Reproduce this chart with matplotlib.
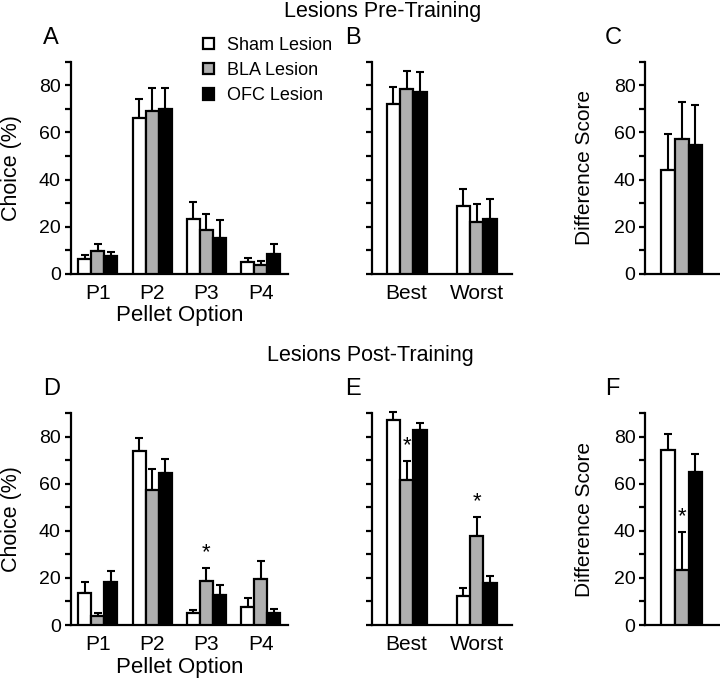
import numpy as np
import matplotlib.pyplot as plt
from matplotlib.patches import Patch
from matplotlib.ticker import MultipleLocator

plt.rcParams['font.family'] = ['Liberation Sans', 'DejaVu Sans']
plt.rcParams['font.size'] = 14

groups = ['Sham Lesion', 'BLA Lesion', 'OFC Lesion']
colors = ['white', '#afafaf', 'black']

pellets = ['P1', 'P2', 'P3', 'P4']
bestworst = ['Best', 'Worst']

# pre-training (means and SEM), rows = sham, BLA, OFC
pre_choice = [[6.2, 66.1, 23.2, 5.2],
              [9.9, 69.1, 18.8, 4.0],
              [7.6, 70.0, 15.4, 8.5]]
pre_choice_err = [[1.8, 8.1, 7.2, 1.7],
                  [3.0, 9.6, 6.8, 1.5],
                  [1.6, 8.7, 7.4, 4.1]]
pre_bw = [[71.9, 28.6],
          [78.4, 21.9],
          [77.0, 23.5]]
pre_bw_err = [[7.5, 7.4],
              [7.8, 7.9],
              [8.8, 8.3]]
pre_diff = [44.0, 57.2, 54.6]
pre_diff_err = [15.3, 15.9, 17.1]

# post-training
post_choice = [[13.5, 73.8, 5.1, 7.8],
               [3.7, 57.5, 18.9, 19.6],
               [18.3, 64.6, 12.8, 5.3]]
post_choice_err = [[4.8, 5.4, 1.4, 3.6],
                   [1.4, 8.8, 5.4, 7.6],
                   [4.7, 6.0, 4.1, 1.5]]
post_bw = [[87.2, 12.4],
           [61.7, 37.9],
           [82.6, 17.7]]
post_bw_err = [[3.2, 3.4],
               [7.9, 7.9],
               [3.3, 3.3]]
post_diff = [74.3, 23.5, 65.0]
post_diff_err = [6.9, 15.9, 7.4]

# significance stars: (group index, category index)
post_choice_stars = [(1, 2)]
post_bw_stars = [(1, 0), (1, 1)]
post_diff_stars = [1]


def style_axis(ax):
    ax.set_ylim(0, 90)
    ax.yaxis.set_major_locator(MultipleLocator(20))
    ax.yaxis.set_minor_locator(MultipleLocator(10))
    ax.spines['top'].set_visible(False)
    ax.spines['right'].set_visible(False)
    ax.spines['left'].set_linewidth(1.6)
    ax.spines['bottom'].set_linewidth(1.6)
    ax.tick_params(axis='y', which='both', direction='out', length=4, width=1.6,
                   labelsize=14, pad=3)
    ax.tick_params(axis='x', length=0, pad=7, labelsize=15)


def grouped(ax, means, errs, width, centers, stars=()):
    for g in range(3):
        x = np.array(centers) + (g - 1) * width
        m = np.array(means[g])
        e = np.array(errs[g])
        ax.bar(x, m, width, color=colors[g], edgecolor='black', linewidth=1.6, zorder=3)
        ax.errorbar(x, m, yerr=[np.zeros_like(e), e], fmt='none', ecolor='black',
                    elinewidth=1.5, capsize=3, capthick=1.5, zorder=2, clip_on=False)
    for g, c in stars:
        x = centers[c] + (g - 1) * width
        top = means[g][c] + errs[g][c]
        ax.text(x, top + 2, '*', ha='center', va='bottom', fontsize=16)


fig = plt.figure(figsize=(7.2, 6.81), dpi=100)

rows = [(0.5977, 0.9095), (0.0822, 0.3935)]
datasets = [(pre_choice, pre_choice_err, pre_bw, pre_bw_err, pre_diff, pre_diff_err, [], [], []),
            (post_choice, post_choice_err, post_bw, post_bw_err, post_diff, post_diff_err,
             post_choice_stars, post_bw_stars, post_diff_stars)]
letters = [['A', 'B', 'C'], ['D', 'E', 'F']]
titles = ['Lesions Pre-Training', 'Lesions Post-Training']
title_pos = [(383 / 720, 1 - 11 / 681), (370 / 720, 1 - 356 / 681)]

for r, ((b, t), d) in enumerate(zip(rows, datasets)):
    ch, che, bw, bwe, df, dfe, s1, s2, s3 = d
    h = t - b
    axA = fig.add_axes([0.098, b, 0.302, h])
    axB = fig.add_axes([0.516, b, 0.195, h])
    axC = fig.add_axes([0.896, b, 0.102, h])

    grouped(axA, ch, che, 0.24, [1, 2, 3, 4], s1)
    axA.set_xlim(0.5, 4.5)
    axA.set_xticks([1, 2, 3, 4], pellets)
    axA.set_ylabel('Choice (%)', fontsize=15.5)
    axA.yaxis.set_label_coords(-0.222, 0.5)
    axA.set_xlabel('Pellet Option', labelpad=2, fontsize=16)

    grouped(axB, bw, bwe, 0.19, [1, 2], s2)
    axB.set_xlim(0.5, 2.5)
    axB.set_xticks([1, 2], bestworst)

    dm = [[v] for v in df]
    de = [[v] for v in dfe]
    grouped(axC, dm, de, 0.185, [0.5], [(g, 0) for g in s3])
    axC.set_xlim(0, 1)
    axC.set_xticks([])
    axC.set_ylabel('Difference Score', fontsize=15)
    axC.yaxis.set_label_coords(-0.7, 0.5)

    for ax in (axA, axB, axC):
        style_axis(ax)
    axB.set_yticklabels([])

    ys = t + 0.0347
    fig.text(0.06, ys, letters[r][0], fontsize=17, ha='left', va='center')
    fig.text(0.479, ys, letters[r][1], fontsize=17, ha='left', va='center')
    fig.text(0.84, ys, letters[r][2], fontsize=17, ha='left', va='center')
    fig.text(title_pos[r][0], title_pos[r][1], titles[r], ha='center', va='center',
             fontsize=15.5)

handles = [Patch(facecolor=c, edgecolor='black', linewidth=1.6) for c in colors]
fig.legend(handles, groups, loc='upper left', bbox_to_anchor=(0.282, 1 - 37 / 681),
           frameon=False, handlelength=0.6, handleheight=0.6, handletextpad=0.7,
           labelspacing=0.45, borderaxespad=0, borderpad=0, fontsize=13)

fig.savefig('out.png', dpi=100)
